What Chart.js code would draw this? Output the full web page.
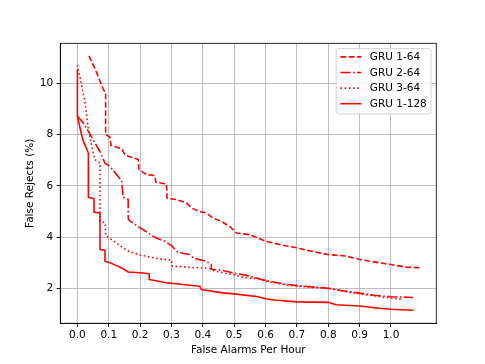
<!DOCTYPE html>
<html lang="en">
<head>
<meta charset="utf-8">
<title>False Rejects x False Alarms</title>
<script src="https://cdn.jsdelivr.net/npm/chart.js@4.4.1/dist/chart.umd.min.js"></script>
<style>
    html, body { margin: 0; padding: 0; background: #fff; }
    #grafico { display: block; }
</style>
</head>
<body>
<canvas id="grafico" width="485" height="364"></canvas>
<script>
// Valores (curvas DET)

const xTicks = [0, 0.1, 0.2, 0.3, 0.4, 0.5, 0.6, 0.7, 0.8, 0.9, 1.0];
const yTicks = [2, 4, 6, 8, 10];
const nomesSeries = ['GRU 1-64', 'GRU 2-64', 'GRU 3-64', 'GRU 1-128'];

const xGru164 = [0.037, 0.060, 0.083, 0.090, 0.090, 0.104, 0.107, 0.141, 0.152, 0.194, 0.196, 0.220, 0.247, 0.250, 0.284, 0.286, 0.316, 0.348, 0.364, 0.390, 0.410, 0.433, 0.459, 0.486, 0.507, 0.550, 0.600, 0.645, 0.700, 0.730, 0.800, 0.857, 0.900, 0.963, 1.000, 1.048, 1.090];
const yGru164 = [11.06, 10.45, 9.74, 9.65, 8.00, 7.90, 7.58, 7.45, 7.20, 7.03, 6.65, 6.44, 6.40, 6.14, 6.08, 5.52, 5.47, 5.34, 5.14, 5.00, 4.95, 4.75, 4.62, 4.42, 4.17, 4.10, 3.85, 3.72, 3.59, 3.50, 3.33, 3.27, 3.14, 3.01, 2.94, 2.84, 2.82];

const xGru264 = [0, 0.019, 0.035, 0.056, 0.072, 0.088, 0.104, 0.141, 0.146, 0.162, 0.162, 0.168, 0.200, 0.226, 0.250, 0.279, 0.300, 0.320, 0.358, 0.369, 0.410, 0.427, 0.427, 0.459, 0.496, 0.539, 0.600, 0.655, 0.700, 0.800, 0.846, 0.900, 0.952, 1.000, 1.070];
const yGru264 = [8.72, 8.45, 8.12, 7.67, 7.34, 6.89, 6.76, 6.20, 5.55, 5.47, 4.72, 4.63, 4.37, 4.17, 3.98, 3.85, 3.68, 3.42, 3.33, 3.20, 3.07, 2.94, 2.76, 2.72, 2.62, 2.52, 2.32, 2.19, 2.12, 2.02, 1.92, 1.83, 1.74, 1.69, 1.66];

const xGru364 = [0, 0.012, 0.025, 0.035, 0.045, 0.055, 0.072, 0.072, 0.089, 0.090, 0.109, 0.141, 0.163, 0.200, 0.237, 0.274, 0.300, 0.302, 0.330, 0.390, 0.422, 0.435, 0.464, 0.497, 0.528, 0.580, 0.600, 0.655, 0.700, 0.800, 0.846, 0.900, 0.973, 1.037];
const yGru364 = [10.71, 10.00, 9.20, 8.20, 7.60, 7.03, 6.90, 4.63, 4.56, 4.08, 3.91, 3.63, 3.46, 3.31, 3.22, 3.14, 3.12, 2.88, 2.86, 2.81, 2.79, 2.70, 2.62, 2.55, 2.45, 2.38, 2.30, 2.17, 2.10, 2.01, 1.91, 1.80, 1.68, 1.58];

const xGru1128 = [0, 0, 0.017, 0.035, 0.035, 0.053, 0.053, 0.072, 0.072, 0.088, 0.088, 0.104, 0.125, 0.141, 0.162, 0.200, 0.229, 0.229, 0.284, 0.390, 0.395, 0.464, 0.500, 0.576, 0.600, 0.629, 0.700, 0.800, 0.825, 0.900, 0.963, 1.000, 1.071];
const yGru1128 = [10.50, 8.70, 7.80, 7.28, 5.56, 5.50, 4.98, 4.95, 3.53, 3.50, 3.07, 3.01, 2.90, 2.81, 2.65, 2.62, 2.58, 2.36, 2.23, 2.10, 1.97, 1.84, 1.80, 1.69, 1.61, 1.56, 1.49, 1.47, 1.38, 1.33, 1.24, 1.20, 1.16];

// Estilos das linhas (tracejado, traço-ponto, pontilhado, contínuo)
const tracos = [[5.8, 2.5], [10.1, 2.5, 1.6, 2.5], [1.6, 2.6], []];
const vermelho = '#ff0000';
const larguraLinha = 1.58;

function juntarPontos(xs, ys) {
    return xs.map((x, i) => ({ x: x, y: ys[i] }));
}

// Moldura superior/direita e legenda no estilo matplotlib
const pluginMolduraLegenda = {
    id: 'molduraLegenda',
    afterDraw(chart) {
        const ctx = chart.ctx;
        const area = chart.chartArea;

        ctx.save();
        ctx.strokeStyle = '#000';
        ctx.lineWidth = 0.84;
        ctx.strokeRect(area.left, area.top, area.right - area.left, area.bottom - area.top);

        // Legenda
        ctx.font = '10.5px "DejaVu Sans"';
        const maiorTexto = Math.max(...nomesSeries.map(n => ctx.measureText(n).width));
        const largura = 4.2 + 21 + 8.4 + maiorTexto + 4.2;
        const altura = 65.4;
        const direita = area.right - 5.3;
        const esquerda = direita - largura;
        const topo = area.top + 5.3;

        ctx.beginPath();
        ctx.roundRect(esquerda, topo, largura, altura, 2.1);
        ctx.fillStyle = 'rgba(255,255,255,0.8)';
        ctx.fill();
        ctx.strokeStyle = '#cccccc';
        ctx.lineWidth = 0.84;
        ctx.stroke();

        nomesSeries.forEach((nome, i) => {
            const y = topo + 8.3 + i * 15.6;
            ctx.beginPath();
            ctx.setLineDash(tracos[i]);
            ctx.strokeStyle = vermelho;
            ctx.lineWidth = larguraLinha;
            ctx.moveTo(esquerda + 4.2, y);
            ctx.lineTo(esquerda + 25.2, y);
            ctx.stroke();
            ctx.setLineDash([]);
            ctx.fillStyle = '#000';
            ctx.textBaseline = 'middle';
            ctx.textAlign = 'left';
            ctx.fillText(nome, esquerda + 33.6, y + 0.5);
        });
        ctx.restore();
    }
};

document.addEventListener('DOMContentLoaded', () => {
    if (typeof Chart === 'undefined') {
        console.error('Chart.js não foi carregado.');
        return;
    }

    Chart.defaults.font.family = '"DejaVu Sans"';
    Chart.defaults.font.size = 10.5;
    Chart.defaults.color = '#000';

    const series = [
        juntarPontos(xGru164, yGru164),
        juntarPontos(xGru264, yGru264),
        juntarPontos(xGru364, yGru364),
        juntarPontos(xGru1128, yGru1128)
    ];

    const datasets = series.map((dados, i) => ({
        label: nomesSeries[i],
        data: dados,
        borderColor: vermelho,
        borderWidth: larguraLinha,
        borderDash: tracos[i],
        borderCapStyle: 'butt',
        borderJoinStyle: 'round',
        pointRadius: 0,
        tension: 0,
        fill: false,
        order: nomesSeries.length - i
    }));

    const gradeComum = {
        color: '#b0b0b0',
        lineWidth: 0.84,
        tickColor: '#000',
        tickLength: 3.7,
        drawTicks: true
    };

    new Chart(document.getElementById('grafico'), {
        type: 'line',
        data: { datasets: datasets },
        options: {
            responsive: false,
            animation: false,
            layout: { padding: { left: 0, right: 48.7, top: 43.3, bottom: 0 } },
            plugins: {
                legend: { display: false },
                tooltip: { enabled: false }
            },
            scales: {
                x: {
                    type: 'linear',
                    min: -0.0545,
                    max: 1.1445,
                    grid: gradeComum,
                    border: { color: '#000', width: 0.84 },
                    afterBuildTicks: (scale) => { scale.ticks = xTicks.map(v => ({ value: v })); },
                    afterFit: (scale) => { scale.height = 40.7; },
                    ticks: {
                        autoSkip: false,
                        maxRotation: 0,
                        padding: 2,
                        callback: (v) => Number(v).toFixed(1)
                    },
                    title: {
                        display: true,
                        text: 'False Alarms Per Hour',
                        padding: { top: 0, bottom: 7 }
                    }
                },
                y: {
                    type: 'linear',
                    min: 0.655,
                    max: 11.55,
                    grid: gradeComum,
                    border: { color: '#000', width: 0.84 },
                    afterBuildTicks: (scale) => { scale.ticks = yTicks.map(v => ({ value: v })); },
                    afterFit: (scale) => { scale.width = 60.3; },
                    ticks: {
                        padding: 3.5,
                        callback: (v) => String(v)
                    },
                    title: {
                        display: true,
                        text: 'False Rejects (%)',
                        padding: { top: 23.7, bottom: 0 }
                    }
                }
            }
        },
        plugins: [pluginMolduraLegenda]
    });
});
</script>
</body>
</html>
